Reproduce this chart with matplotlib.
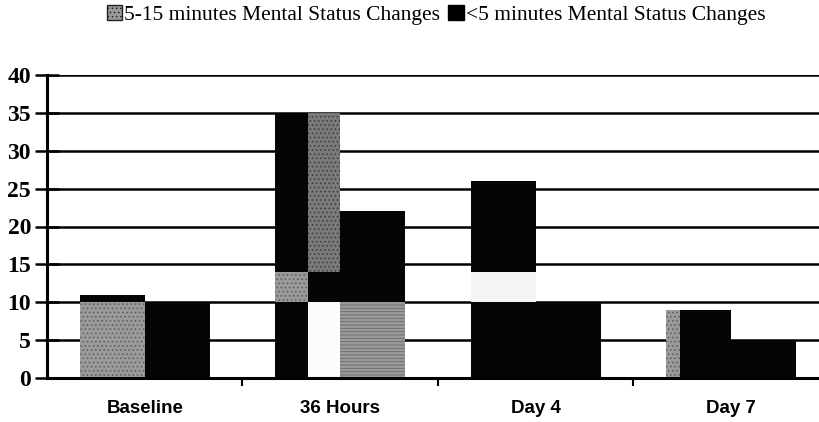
import matplotlib
matplotlib.use("Agg")
import matplotlib.pyplot as plt
from matplotlib.patches import Patch
import numpy as np

plt.rcParams['hatch.linewidth'] = 0.6

categories = ['Baseline', '36 Hours', 'Day 4', 'Day 7']
legend_labels = ['5-15 minutes Mental Status Changes', '<5 minutes Mental Status Changes']
y_ticks = [0, 5, 10, 15, 20, 25, 30, 35, 40]

# left bar, outer half: stacked layers (values, fill kind)
outer_vals = [[10, 10, 10, 9], [1, 4, 4, 0], [0, 21, 12, 0]]
outer_kind = [['gray', 'black', 'black', 'gray'],
              ['black', 'gray', 'light', 'black'],
              ['black', 'black', 'black', 'black']]
# left bar, inner half
inner_vals = [[10, 10, 10, 9], [1, 4, 4, 0], [0, 21, 12, 0]]
inner_kind = [['gray', 'white', 'black', 'black'],
              ['black', 'black', 'light', 'black'],
              ['black', 'dark', 'black', 'black']]
# right bar
right_vals = [[10, 10, 10, 5], [0, 12, 0, 0]]
right_kind = [['black', 'lined', 'black', 'black'],
              ['black', 'black', 'black', 'black']]

styles = {
    'gray':  dict(fc='#9a9a9a', hatch='....', ec='#5a5a5a'),
    'dark':  dict(fc='#7a7a7a', hatch='....', ec='#3a3a3a'),
    'lined': dict(fc='#9a9a9a', hatch='-----', ec='#6a6a6a'),
    'black': dict(fc='#050505', hatch=None, ec='#050505'),
    'white': dict(fc='#fbfbfb', hatch=None, ec='#fbfbfb'),
    'light': dict(fc='#f4f4f4', hatch=None, ec='#f4f4f4'),
}

fig = plt.figure(figsize=(8.2, 4.22), dpi=100)
ax = fig.add_axes([47 / 820, 44 / 422, 782 / 820, 303 / 422])

x = np.arange(len(categories))
third = 1 / 3
split = np.array([0.5, 0.5, 0.5, 0.22])


def draw(xpos, width, vals, kinds):
    bottom = np.zeros(len(categories))
    for v, k in zip(vals, kinds):
        v = np.array(v, dtype=float)
        bars = ax.bar(xpos, v, width=width, bottom=bottom, align='edge',
                      linewidth=0, zorder=3)
        for b, kk, vv in zip(bars, k, v):
            st = styles[kk]
            b.set_facecolor(st['fc'])
            b.set_edgecolor(st['ec'])
            if st['hatch']:
                b.set_hatch(st['hatch'])
        bottom = bottom + v


w_outer = split * third
draw(x - third, w_outer, outer_vals, outer_kind)
draw(x - third + w_outer, third - w_outer, inner_vals, inner_kind)
draw(x, np.full(len(categories), third), right_vals, right_kind)

ax.set_xlim(-0.5, 3.5)
ax.set_ylim(0, 40)
ax.set_yticks(y_ticks)
ax.set_yticklabels([str(t) for t in y_ticks], fontfamily='Liberation Serif',
                   fontweight='bold', fontsize=17)
ax.tick_params(axis='y', direction='inout', length=17, width=1.8, pad=3, color='black')
ax.set_xticks(x)
ax.set_xticklabels(categories, fontfamily='Liberation Sans', fontweight='bold', fontsize=13.5)
ax.tick_params(axis='x', length=0, pad=16)
ax.set_xticks(x[:-1] + 0.5, minor=True)
ax.tick_params(axis='x', which='minor', direction='out', length=6, width=1.5)

ax.grid(axis='y', color='black', linewidth=1.8)
ax.set_axisbelow(True)
for s in ['top', 'right']:
    ax.spines[s].set_visible(False)
ax.spines['left'].set_linewidth(2.2)
ax.spines['bottom'].set_linewidth(2.2)
ax.spines['bottom'].set_zorder(4)

handles = [Patch(facecolor='#9a9a9a', edgecolor='#222222', hatch='....', linewidth=1),
           Patch(facecolor='black', edgecolor='black')]
fig.legend(handles, legend_labels, loc='center', bbox_to_anchor=(436 / 820, 1 - 15 / 422),
           ncol=2, frameon=False, handlelength=0.7, handleheight=0.7,
           handletextpad=0.1, columnspacing=0.4,
           prop={'family': 'Liberation Serif', 'size': 15.5})

fig.savefig('out.png', dpi=100)
